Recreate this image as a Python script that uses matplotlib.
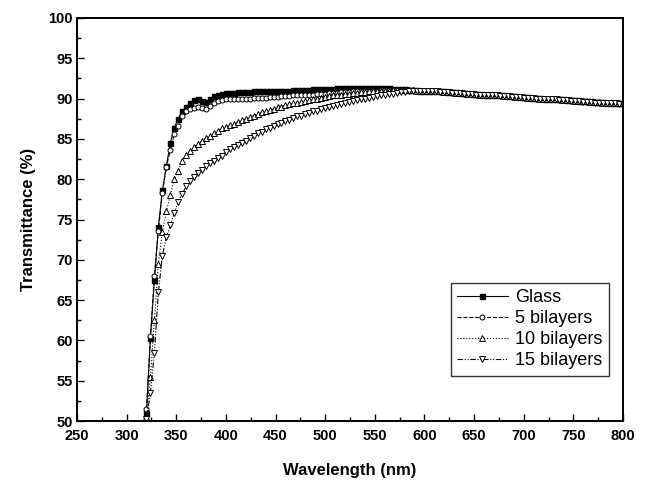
import numpy as np
import matplotlib
matplotlib.use("Agg")
import matplotlib.pyplot as plt
from matplotlib.ticker import MultipleLocator

plt.rcParams['font.family'] = ['Liberation Sans', 'DejaVu Sans']

# wavelength grid (nm), one reading every 4 nm
wavelength = np.arange(320, 801, 4)

glass = [51.0, 60.3, 67.5, 74.1, 78.6, 81.6, 84.5, 86.4, 87.5, 88.4,
         89.0, 89.5, 89.8, 89.9, 89.7, 89.6, 89.9, 90.3, 90.5, 90.6,
         90.7, 90.7, 90.7, 90.8, 90.8, 90.8, 90.8, 90.9, 90.9, 90.9,
         90.9, 90.9, 91.0, 91.0, 91.0, 91.0, 91.0, 91.1, 91.1, 91.1,
         91.1, 91.1, 91.2, 91.2, 91.2, 91.2, 91.2, 91.2, 91.3, 91.3,
         91.3, 91.3, 91.3, 91.3, 91.3, 91.3, 91.3, 91.3, 91.3, 91.3,
         91.3, 91.3, 91.2, 91.2, 91.2, 91.2, 91.1, 91.1, 91.1, 91.0,
         91.0,
         91.0, 91.0, 90.9, 90.9, 90.9, 90.8, 90.8, 90.8, 90.7, 90.7,
         90.7, 90.6, 90.6, 90.6, 90.5, 90.5, 90.5, 90.4, 90.4, 90.4,
         90.3, 90.3, 90.3, 90.2, 90.2, 90.2, 90.1, 90.1, 90.1, 90.0,
         90.0, 90.0, 89.9, 89.9, 89.9, 89.8, 89.8, 89.8, 89.7, 89.7,
         89.7, 89.7, 89.6, 89.6, 89.6, 89.5, 89.5, 89.5, 89.4, 89.4]

bilayer5 = [51.5, 60.5, 68.0, 73.6, 78.3, 81.5, 83.6, 85.6, 86.6, 87.8,
            88.4, 88.7, 88.8, 88.9, 88.8, 88.7, 89.1, 89.5, 89.7, 89.8,
            89.9, 89.9, 89.9, 90.0, 90.0, 90.0, 90.0, 90.1, 90.1, 90.1,
            90.1, 90.2, 90.2, 90.2, 90.3, 90.3, 90.3, 90.4, 90.4, 90.4,
            90.5, 90.5, 90.5, 90.6, 90.6, 90.6, 90.7, 90.7, 90.7, 90.8,
            90.8, 90.8, 90.9, 90.9, 90.9, 91.0, 91.0, 91.0, 91.0, 91.1,
            91.1, 91.1, 91.1, 91.1, 91.1, 91.1, 91.1, 91.1, 91.0, 91.0,
            91.0,
            91.0, 90.9, 90.9, 90.9, 90.8, 90.8, 90.8, 90.7, 90.7, 90.7,
            90.6, 90.6, 90.6, 90.5, 90.5, 90.5, 90.4, 90.4, 90.4, 90.3,
            90.3, 90.3, 90.2, 90.2, 90.2, 90.1, 90.1, 90.1, 90.0, 90.0,
            90.0, 89.9, 89.9, 89.9, 89.8, 89.8, 89.8, 89.7, 89.7, 89.7,
            89.6, 89.6, 89.6, 89.6, 89.5, 89.5, 89.5, 89.4, 89.4, 89.4]

bilayer10 = [50.5, 55.5, 62.5, 69.5, 73.5, 76.0, 78.0, 80.0, 81.0, 82.3,
             83.0, 83.5, 84.0, 84.4, 84.8, 85.1, 85.4, 85.7, 86.0, 86.3,
             86.5, 86.7, 86.9, 87.1, 87.3, 87.5, 87.7, 87.9, 88.1, 88.3,
             88.4, 88.6, 88.7, 88.9, 89.0, 89.2, 89.3, 89.4, 89.5, 89.6,
             89.7, 89.8, 89.9, 90.0, 90.1, 90.2, 90.3, 90.4, 90.4, 90.5,
             90.6, 90.6, 90.7, 90.7, 90.8, 90.8, 90.9, 90.9, 90.9, 91.0,
             91.0, 91.0, 91.1, 91.1, 91.1, 91.1, 91.1, 91.1, 91.0, 91.0,
             91.0,
             91.0, 91.0, 90.9, 90.9, 90.8, 90.8, 90.8, 90.7, 90.7, 90.7,
             90.6, 90.6, 90.6, 90.5, 90.5, 90.5, 90.4, 90.4, 90.4, 90.3,
             90.3, 90.3, 90.2, 90.2, 90.2, 90.1, 90.1, 90.1, 90.0, 90.0,
             90.0, 89.9, 89.9, 89.9, 89.8, 89.8, 89.8, 89.7, 89.7, 89.7,
             89.7, 89.6, 89.6, 89.6, 89.5, 89.5, 89.5, 89.4, 89.4, 89.4]

bilayer15 = [50.3, 53.5, 58.5, 66.0, 70.5, 72.8, 74.3, 75.8, 77.2, 78.2,
             79.1, 79.8, 80.3, 80.8, 81.2, 81.6, 82.0, 82.3, 82.6, 82.9,
             83.4, 83.7, 84.0, 84.2, 84.5, 84.8, 85.1, 85.4, 85.7, 85.9,
             86.2, 86.4, 86.6, 86.8, 87.0, 87.2, 87.4, 87.6, 87.8, 87.9,
             88.1, 88.2, 88.4, 88.5, 88.7, 88.8, 88.9, 89.1, 89.2, 89.3,
             89.5, 89.6, 89.7, 89.8, 89.9, 90.0, 90.1, 90.2, 90.3, 90.4,
             90.5, 90.6, 90.6, 90.7, 90.8, 90.8, 90.9, 90.9, 91.0, 91.0,
             91.0,
             90.9, 90.9, 90.9, 90.8, 90.8, 90.8, 90.7, 90.7, 90.7, 90.6,
             90.6, 90.6, 90.5, 90.5, 90.5, 90.4, 90.4, 90.4, 90.3, 90.3,
             90.3, 90.2, 90.2, 90.2, 90.1, 90.1, 90.1, 90.0, 90.0, 90.0,
             89.9, 89.9, 89.9, 89.8, 89.8, 89.8, 89.7, 89.7, 89.7, 89.6,
             89.6, 89.6, 89.5, 89.5, 89.5, 89.5, 89.4, 89.4, 89.3, 89.3]

labels = ['Glass', '5 bilayers', '10 bilayers', '15 bilayers']

fig = plt.figure(figsize=(6.49, 4.93), dpi=100)
ax = fig.add_axes([0.1186, 0.146, 0.8414, 0.8175])

ms = 3.6
ax.plot(wavelength, glass, '-', color='k', lw=0.8, marker='s', ms=ms,
        mfc='k', mec='k', label=labels[0])
ax.plot(wavelength, bilayer5, '--', color='k', lw=0.8, marker='o', ms=ms,
        mfc='white', mec='k', mew=0.7, label=labels[1])
ax.plot(wavelength, bilayer10, ':', color='k', lw=0.8, marker='^', ms=ms + 0.4,
        mfc='white', mec='k', mew=0.7, label=labels[2])
ax.plot(wavelength, bilayer15, color='k', lw=0.8, dashes=[5, 1.5, 1, 1.5, 1, 1.5],
        marker='v', ms=ms + 0.4, mfc='white', mec='k', mew=0.7, label=labels[3])

ax.set_xlim(250, 800)
ax.set_ylim(50, 100)
ax.xaxis.set_major_locator(MultipleLocator(50))
ax.xaxis.set_minor_locator(MultipleLocator(25))
ax.yaxis.set_major_locator(MultipleLocator(5))
ax.yaxis.set_minor_locator(MultipleLocator(2.5))
ax.tick_params(which='both', direction='in', top=False, right=False)
ax.tick_params(which='major', length=5, width=1)
ax.tick_params(which='minor', length=3, width=1)
ax.tick_params(axis='x', pad=6)
ax.tick_params(axis='y', pad=3)
for lab in ax.get_xticklabels() + ax.get_yticklabels():
    lab.set_fontweight('bold')
    lab.set_fontsize(10.5)
for sp in ax.spines.values():
    sp.set_linewidth(1.4)

ax.set_xlabel('Wavelength (nm)', fontsize=12, fontweight='bold', labelpad=14)
ax.set_ylabel('Transmittance (%)', fontsize=12, fontweight='bold', labelpad=9)

leg = ax.legend(loc='lower right', bbox_to_anchor=(0.99, 0.09), fontsize=13,
                frameon=True, fancybox=False, edgecolor='k', handlelength=2.8,
                labelspacing=0.22, borderpad=0.35, handletextpad=0.4)
leg.get_frame().set_linewidth(1.0)

fig.savefig('out.png', dpi=100)
